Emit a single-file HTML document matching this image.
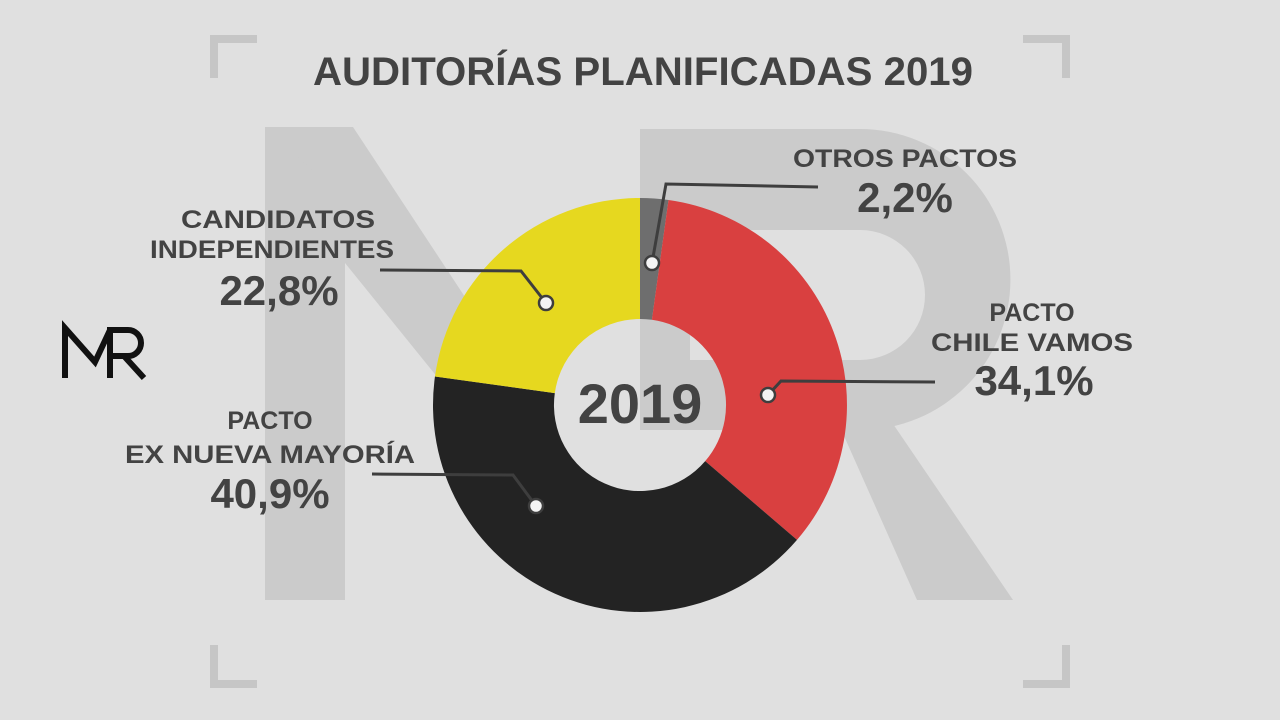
<!DOCTYPE html>
<html><head><meta charset="utf-8"><style>
html,body{margin:0;padding:0;width:1280px;height:720px;overflow:hidden;background:#e0e0e0}
svg{display:block}
text{font-family:"Liberation Sans",Arial,sans-serif;font-weight:bold;fill:#434343}
</style></head><body>
<svg width="1280" height="720" viewBox="0 0 1280 720">
<rect width="1280" height="720" fill="#e0e0e0"/>
<!-- watermark MR -->
<g fill="#cbcbcb">
<rect x="265" y="127" width="80" height="473"/>
<polygon points="265,127 353,127 546,420 472,420 345,263 345,200"/>
<path fill-rule="evenodd" d="M640,129 H860 A150,150 0 0 1 860,430 H640 Z M690,230 H860 A65,65 0 0 1 860,360 H690 Z"/>
<polygon points="836,418 889,418 1013,600 917,600"/>
</g>
<!-- brackets -->
<g fill="none" stroke="#c6c6c6" stroke-width="8">
<polyline points="214,78 214,39 257,39"/>
<polyline points="1023,39 1066,39 1066,78"/>
<polyline points="214,645 214,684 257,684"/>
<polyline points="1023,684 1066,684 1066,645"/>
</g>
<!-- title -->
<text x="313" y="85" font-size="40" textLength="660" lengthAdjust="spacingAndGlyphs">AUDITORÍAS PLANIFICADAS <tspan font-weight="900">2019</tspan></text>
<!-- MR logo -->
<g fill="none" stroke="#111" stroke-width="6">
<polyline points="65,378 65,328 95,362 110,330"/>
<path d="M110,378 V330 H128 A13,13 0 0 1 128,356 H112 M124,356 L144,378"/>
</g>
<!-- donut -->
<path d="M640,198 A207,207 0 0 1 668.5,200 L651.9,319.8 A86,86 0 0 0 640,319 Z" fill="#6e6e6e"/>
<path d="M668.5,200 A207,207 0 0 1 797,539.9 L705.2,461.1 A86,86 0 0 0 651.9,319.8 Z" fill="#d94040"/>
<path d="M797,539.9 A207,207 0 0 1 434.97,376.5 L554.8,393.1 A86,86 0 0 0 705.2,461.1 Z" fill="#232323"/>
<path d="M434.97,376.5 A207,207 0 0 1 640,198 L640,319 A86,86 0 0 0 554.8,393.1 Z" fill="#e6d81f"/>
<text x="640" y="423" font-size="56" text-anchor="middle" font-weight="900">2019</text>
<!-- leaders -->
<g fill="none" stroke="#3e3e3e" stroke-width="3">
<polyline points="652,263 666,184 818,187"/>
<polyline points="768,395 781,381 935,382"/>
<polyline points="546,303 521,271 380,270"/>
<polyline points="536,506 513,475 372,474"/>
</g>
<g fill="#f4f4f4" stroke="#3e3e3e" stroke-width="2.5">
<circle cx="652" cy="263" r="7"/>
<circle cx="768" cy="395" r="7"/>
<circle cx="546" cy="303" r="7"/>
<circle cx="536" cy="506" r="7"/>
</g>
<!-- labels -->
<g text-anchor="middle">
<text x="905" y="167" font-size="25" textLength="224" lengthAdjust="spacingAndGlyphs">OTROS PACTOS</text>
<text x="905" y="212" font-size="42">2,2%</text>
<text x="1032" y="321" font-size="25">PACTO</text>
<text x="1032" y="351" font-size="25" textLength="202" lengthAdjust="spacingAndGlyphs">CHILE VAMOS</text>
<text x="1034" y="395" font-size="42">34,1%</text>
<text x="278" y="228" font-size="25" textLength="194" lengthAdjust="spacingAndGlyphs">CANDIDATOS</text>
<text x="272" y="258" font-size="25" textLength="244" lengthAdjust="spacingAndGlyphs">INDEPENDIENTES</text>
<text x="279" y="305" font-size="42">22,8%</text>
<text x="270" y="429" font-size="25">PACTO</text>
<text x="270" y="463" font-size="25" textLength="290" lengthAdjust="spacingAndGlyphs">EX NUEVA MAYORÍA</text>
<text x="270" y="508" font-size="42">40,9%</text>
</g>
</svg>
</body></html>
